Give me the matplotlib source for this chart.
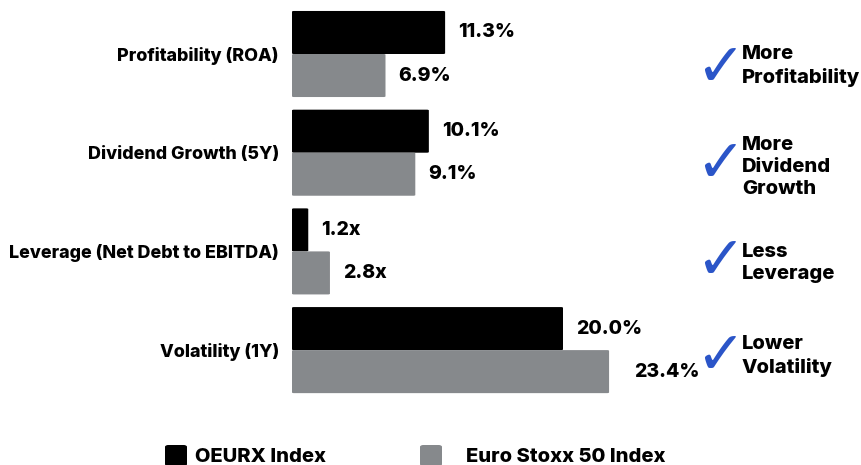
import matplotlib
matplotlib.use("Agg")
import matplotlib.pyplot as plt
from matplotlib.patches import FancyBboxPatch

plt.rcParams["font.family"] = ["Inter", "DejaVu Sans"]

# ── Data ──────────────────────────────────────────────────────────────────────
categories = ["Profitability (ROA)", "Dividend Growth (5Y)",
              "Leverage (Net Debt to EBITDA)", "Volatility (1Y)"]
oeurx      = [11.3, 10.1, 1.2, 20.0]
eurostoxx  = [6.9, 9.1, 2.8, 23.4]
units      = ["%", "%", "x", "%"]
notes      = ["More\nProfitability", "More\nDividend\nGrowth",
              "Less\nLeverage", "Lower\nVolatility"]
series     = ["OEURX Index", "Euro Stoxx 50 Index"]

BLACK = "#000000"
GREY  = "#86898c"
BLUE  = "#2b55c8"
WT    = 800

W, H = 861, 465
fig = plt.figure(figsize=(W / 100, H / 100), dpi=100)
ax = fig.add_axes([292 / W, 0, 1 - 292 / W, 1])

bh = 0.436
ypos = list(range(len(categories)))
for i, (a, b) in enumerate(zip(oeurx, eurostoxx)):
    for val, yc, col in [(a, i - bh / 2, BLACK), (b, i + bh / 2, GREY)]:
        ax.add_patch(FancyBboxPatch((0, yc - bh / 2), val, bh,
                                    boxstyle="round,pad=0,rounding_size=0.15",
                                    mutation_aspect=0.05, fc=col, ec="none"))
        off = 25 if (val == b and i == 3) else 13
        ax.annotate(f"{val:.1f}{units[i]}", (val, yc), xytext=(off * 0.72, 0),
                    textcoords="offset points", va="center", ha="left",
                    fontsize=14, fontweight=WT)

ax.set_xlim(0, (W - 292) / 13.55)
ax.set_ylim((H - 54) / 98.7, -54 / 98.7)
ax.set_yticks(ypos)
ax.set_yticklabels(categories, fontsize=12.9, fontweight=WT)
ax.tick_params(axis="y", length=0, pad=9.5)
ax.set_xticks([])
for s in ax.spines.values():
    s.set_visible(False)

# ── Right-hand notes with check marks ─────────────────────────────────────────
note_y  = [66, 167, 263, 356]
check_y = [70, 165, 262, 357]
for ny, cy, txt in zip(note_y, check_y, notes):
    fig.text(720 / W, 1 - cy / H, "\u2713", color=BLUE, fontsize=43,
             fontweight="bold", ha="center", va="center", family="DejaVu Sans")
    fig.text(742 / W, 1 - ny / H, txt, fontsize=14.5, fontweight=WT,
             ha="left", va="center", linespacing=1.3)

# ── Legend ────────────────────────────────────────────────────────────────────
for x0, tx, col, lab in [(165, 195, BLACK, series[0]), (420, 466, GREY, series[1])]:
    fig.patches.append(FancyBboxPatch((x0 / W, 1 - 466 / H), 22 / W, 21 / H,
                                      boxstyle="round,pad=0,rounding_size=0.004",
                                      transform=fig.transFigure, fc=col, ec="none"))
    fig.text(tx / W, 1 - 457 / H, lab, fontsize=14.5, fontweight=WT,
             ha="left", va="center")

fig.savefig("out.png", dpi=100)
